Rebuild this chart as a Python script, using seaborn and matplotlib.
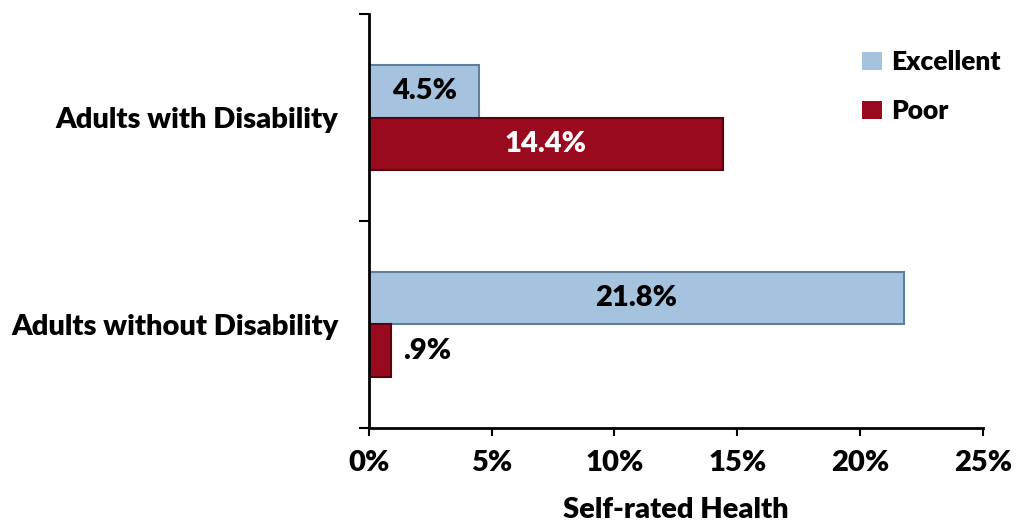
import numpy as np
import pandas as pd
import matplotlib.pyplot as plt
import seaborn as sns

# values
groups = ["Adults with Disability", "Adults without Disability"]
ratings = ["Excellent", "Poor"]
excellent = [4.5, 21.8]
poor = [14.4, 0.9]
bar_labels = {"Excellent": ["4.5%", "21.8%"], "Poor": ["14.4%", ".9%"]}

df = pd.DataFrame({
    "group": groups * 2,
    "rating": ["Excellent"] * 2 + ["Poor"] * 2,
    "pct": excellent + poor,
})

sns.set_style("white")
plt.rcParams["font.family"] = ["Lato", "DejaVu Sans"]
plt.rcParams["font.weight"] = "heavy"
plt.rcParams["text.color"] = "black"
plt.rcParams["xtick.labelcolor"] = "black"
plt.rcParams["ytick.labelcolor"] = "black"
plt.rcParams["axes.labelcolor"] = "black"

FS = 21

fig = plt.figure(figsize=(10.16, 5.31), dpi=100)
ax = fig.add_axes([0.363, 0.194, 0.6045, 0.7796])

palette = {"Excellent": "#a5c3de", "Poor": "#990a1f"}
sns.barplot(data=df, y="group", x="pct", hue="rating", hue_order=ratings,
            order=groups, palette=palette, width=0.51, orient="h",
            saturation=1, ax=ax, edgecolor="none")

# darker edges give a bit of the bevel look
edge = {"Excellent": "#5f7f9c", "Poor": "#5c0010"}
for cont, r in zip(ax.containers, ratings):
    for bar in cont:
        bar.set_edgecolor(edge[r])
        bar.set_linewidth(1.5)
    txt_color = "white" if r == "Poor" else "black"
    for bar, lab in zip(cont, bar_labels[r]):
        w = bar.get_width()
        yc = bar.get_y() + bar.get_height() / 2
        if w < 2:
            ax.text(w + 0.5, yc, lab, va="center", ha="left", fontsize=FS,
                    fontweight="heavy", color="black")
        else:
            ax.text(w / 2, yc, lab, va="center", ha="center", fontsize=FS,
                    fontweight="heavy", color=txt_color)

ax.set_xlim(0, 25)
ax.set_ylim(1.5, -0.5)
ax.set_xticks(np.arange(0, 26, 5))
ax.set_xticklabels([f"{v}%" for v in range(0, 26, 5)], fontsize=FS, fontweight="heavy")
ax.set_yticks([-0.5, 0.5, 1.5])
ax.set_yticklabels([])
ax.set_yticks([0, 1], minor=True)
ax.set_yticklabels(groups, minor=True, fontsize=FS, fontweight="heavy")
ax.tick_params(axis="y", which="major", left=True, length=7, width=1.5, color="black")
ax.tick_params(axis="y", which="minor", left=False, length=0, pad=22)
ax.tick_params(axis="x", bottom=True, length=6, width=1.5, color="black", pad=10)
ax.set_xlabel("Self-rated Health", fontsize=FS, fontweight="heavy", labelpad=15)
ax.set_ylabel("")

for s in ["top", "right"]:
    ax.spines[s].set_visible(False)
for s in ["left", "bottom"]:
    ax.spines[s].set_color("black")
    ax.spines[s].set_linewidth(2)

ax.legend(loc="upper left", bbox_to_anchor=(0.838, 0.925),
          bbox_transform=fig.transFigure, frameon=False, borderaxespad=0,
          prop={"size": 19, "weight": "heavy"}, handlelength=0.75,
          handleheight=0.7, handletextpad=0.35, labelspacing=0.95)

fig.savefig("out.png", dpi=100)
